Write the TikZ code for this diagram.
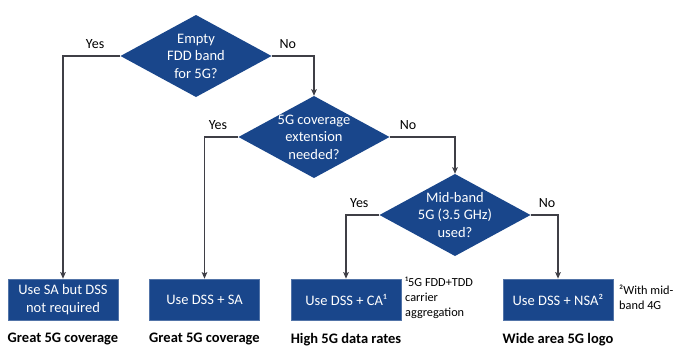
\documentclass[tikz,border=0pt]{standalone}
\usepackage{fontspec}
\setmainfont{Carlito}
\usetikzlibrary{arrows.meta, positioning}

\definecolor{dssblue}{HTML}{19468B}
\definecolor{flowline}{HTML}{3F3F46}

\begin{document}
\begin{tikzpicture} [
						x=1pt, y=-1pt,
						>={Stealth[length=6.5pt, width=5.5pt, inset=1.2pt]},
						decision/.style={minimum width=151pt, minimum height=82pt, inner sep=0pt,
							text=white, align=center, font=\fontsize{14.5}{17.5}\selectfont,
							path picture={\fill[dssblue] (path picture bounding box.north)
								-- (path picture bounding box.east) -- (path picture bounding box.south)
								-- (path picture bounding box.west) -- cycle;}},
						answer/.style={fill=dssblue, draw=dssblue!75!white, line width=0.6pt,
							minimum width=110pt, minimum height=41pt, inner sep=0pt,
							text=white, align=center, font=\fontsize{14.5}{17.5}\selectfont},
						result/.style={font=\fontsize{14.5}{16}\selectfont\bfseries},
						note/.style={anchor=north west, inner sep=0pt, align=left,
							font=\fontsize{12.3}{15}\selectfont},
						choice/.style={above=3pt, font=\fontsize{14}{15}\selectfont},
						flow/.style={->, draw=flowline, line width=1.2pt}
					]

\useasboundingbox (0,0) rectangle (690,359);

% questions
\node (q1) [decision] at (196,56)  {Empty\\FDD band\\for 5G?};
\node (q2) [decision] at (314,137) {5G coverage\\extension\\needed?};
\node (q3) [decision] at (455,215) {Mid-band\\5G (3.5 GHz)\\used?};

% answers
\node (a1) [answer] at (63,299.5)    {Use SA but DSS\\not required};
\node (a2) [answer] at (204.5,299.5) {Use DSS + SA};
\node (a3) [answer] at (346,299.5)   {Use DSS + CA¹};
\node (a4) [answer] at (558,299.5)   {Use DSS + NSA²};

\node (r1) [result, below=9pt of a1] {Great 5G coverage};
\node (r2) [result, below=9pt of a2] {Great 5G coverage};
\node (r3) [result, below=9pt of a3] {High 5G data rates};
\node (r4) [result, below=9pt of a4] {Wide area 5G logo};

\node (n1) [note] at (405,277) {¹5G FDD+TDD\\carrier\\aggregation};
\node (n2) [note] at (619,285) {²With mid-\\band 4G};

\draw[flow] (q1.west) -| node[choice, pos=0.22] {Yes} (a1.north);
\draw[flow] (q1.east) -| node[choice, pos=0.19] {No}  (q2.north);
\draw[flow] (q2.west) -| node[choice, pos=0.3]  {Yes} (a2.north);
\draw[flow] (q2.east) -| node[choice, pos=0.14] {No}  (q3.north);
\draw[flow] (q3.west) -| node[choice, pos=0.3]  {Yes} (a3.north);
\draw[flow] (q3.east) -| node[choice, pos=0.3]  {No}  (a4.north);

\end{tikzpicture}
\end{document}
